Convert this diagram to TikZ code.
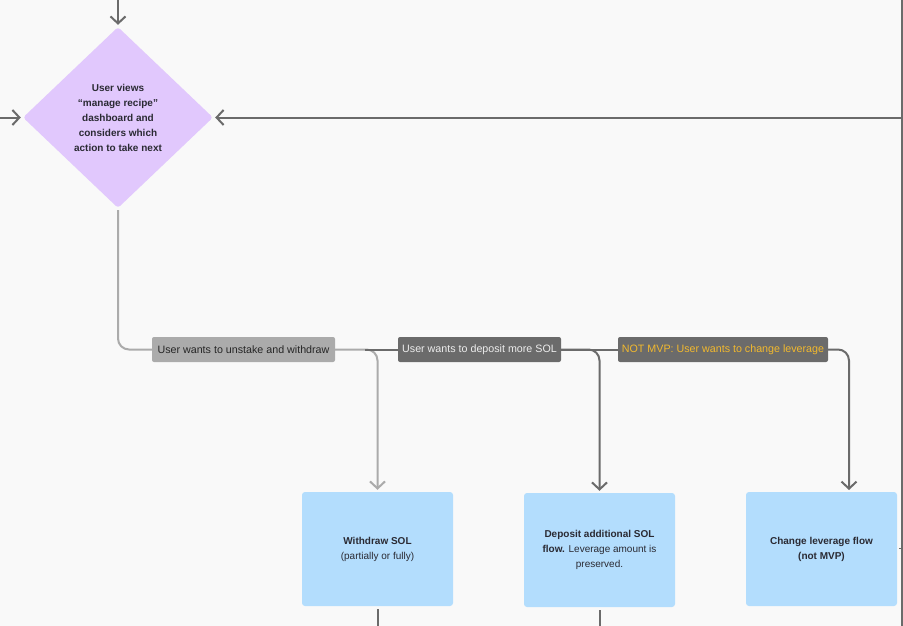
\documentclass[tikz,border=0pt]{standalone}
\usepackage{fontspec}
\setmainfont{Liberation Sans}
\usetikzlibrary{shapes.geometric,arrows.meta,calc}
\definecolor{bg}{HTML}{F9F9F9}
\definecolor{dgray}{HTML}{6B6B6B}
\definecolor{lgray}{HTML}{ABABAB}
\definecolor{purp}{HTML}{E1C8FD}
\definecolor{bluebox}{HTML}{B3DDFD}
\definecolor{txt}{HTML}{2A2A33}
\definecolor{amber}{HTML}{F2B92E}
\tikzset{
  conn/.style={line width=2pt, draw=dgray},
  lconn/.style={line width=2pt, draw=lgray},
  tip/.style={-{Straight Barb[length=7pt,width=15pt,line width=2pt]}, shorten >=2pt},
  lab/.style={rectangle, rounded corners=2pt, minimum height=25pt, inner sep=0pt, font=\fontsize{10.7}{12}\selectfont},
  flowbox/.style={rectangle, rounded corners=3pt, fill=bluebox, minimum width=151pt, minimum height=114pt, inner sep=0pt, align=center, text=txt, font=\fontsize{10}{15}\selectfont},
}
\begin{document}
\begin{tikzpicture}[x=1pt,y=-1pt]
\fill[bg] (0,0) rectangle (903,626);
\useasboundingbox (0,0) rectangle (903,626);
% decision
\node[diamond, fill=purp, rounded corners=3pt, minimum width=190pt, minimum height=181pt, inner sep=0pt, align=center, text=txt, font=\bfseries\fontsize{10}{15}\selectfont] (dia) at (118,117.5)
  {User views\\“manage recipe”\\dashboard and\\considers which\\action to take next};
% labels
\node[lab, fill=lgray, text=black!85, minimum width=183pt] (l1) at (243.5,349.5) {User wants to unstake and withdraw};
\node[lab, fill=dgray, text=white!93!black, minimum width=163pt] (l2) at (479.5,349.5) {User wants to deposit more SOL};
\node[lab, fill=dgray, text=amber, minimum width=210pt] (l3) at (723,349.5) {NOT MVP: User wants to change leverage};
% boxes
\node[flowbox] (w) at (377.5,549) {\textbf{Withdraw SOL}\\(partially or fully)};
\node[flowbox] (d) at (599.5,550) {\textbf{Deposit additional SOL}\\\textbf{flow.} Leverage amount is\\preserved.};
\node[flowbox] (c) at (821.5,549) {\textbf{Change leverage flow}\\\textbf{(not MVP)}};
% coordinates
\coordinate (topin) at (118,0);
\coordinate (leftin) at (0,117.5);
\coordinate (rightin) at (902,117.5);
\coordinate (rtop) at (902,0);
\coordinate (rbot) at (902,626);
\coordinate (split1) at (365,349.5);
\coordinate (ctop) at (849,492);
\coordinate (wout) at (377.5,626);
\coordinate (dout) at (599.5,626);
\coordinate (tick) at (899,548);
% incoming connectors
\draw[conn, tip] (topin) -- (dia.north);
\draw[conn, tip] (leftin) -- (dia.west);
\draw[conn, tip] (rightin) -- (dia.east);
\draw[conn] (rtop) -- (rbot);
\draw[conn, line width=1pt] (tick) -- (rbot |- tick);
% branches
\draw[lconn, rounded corners=11pt, shorten <=2pt] (dia.south) |- (l1.west);
\draw[lconn, tip, rounded corners=11pt] (l1.east) -| (w.north);
\draw[conn] (split1) -- (l2.west);
\draw[conn] (l2.east) -- (l3.west);
\draw[conn, tip, rounded corners=11pt] (l2.east) -| (d.north);
\draw[conn, tip, rounded corners=11pt] (l3.east) -| (ctop);
% outgoing
\draw[conn] (w.south) ++(0,3) -- (wout);
\draw[conn] (d.south) ++(0,3) -- (dout);
\end{tikzpicture}
\end{document}
